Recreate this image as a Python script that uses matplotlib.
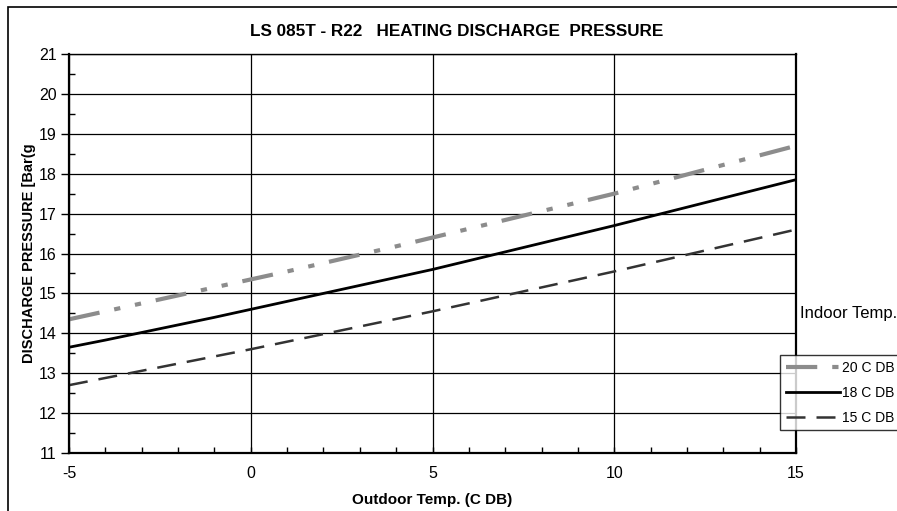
import matplotlib.pyplot as plt
from matplotlib.patches import Rectangle
from matplotlib.ticker import MultipleLocator

plt.rcParams['font.family'] = ['Liberation Sans', 'DejaVu Sans']
plt.rcParams['axes.unicode_minus'] = False

# outdoor temperature (C DB)
outdoor = [-5, -4, -3, -2, -1, 0, 1, 2, 3, 4, 5, 6, 7, 8, 9, 10, 11, 12, 13, 14, 15]

# discharge pressure [Bar(g)] for each indoor temperature
p_20 = [14.35, 14.55, 14.75, 14.95, 15.15, 15.35, 15.55, 15.76, 15.97, 16.18, 16.4,
        16.62, 16.84, 17.06, 17.28, 17.5, 17.74, 17.98, 18.22, 18.46, 18.7]
p_18 = [13.65, 13.83, 14.02, 14.21, 14.4, 14.6, 14.8, 15.0, 15.2, 15.4, 15.6,
        15.82, 16.04, 16.26, 16.48, 16.7, 16.93, 17.16, 17.39, 17.62, 17.85]
p_15 = [12.7, 12.88, 13.06, 13.24, 13.42, 13.6, 13.79, 13.98, 14.17, 14.36, 14.55,
        14.75, 14.95, 15.15, 15.35, 15.55, 15.76, 15.97, 16.18, 16.39, 16.6]

labels = ['20 C DB', '18 C DB', '15 C DB']

fig = plt.figure(figsize=(8.97, 5.11), dpi=100)
W, H = 897, 511
ax = fig.add_axes([69 / W, 1 - 453 / H, (796 - 69) / W, (453 - 54) / H])

# outer chart frame
fig.patches.append(Rectangle((8 / W, -0.01), 1.0, 1 - 7 / H + 0.01, transform=fig.transFigure,
                             fill=False, edgecolor='black', linewidth=1.2))

ax.plot(outdoor, p_20, color='#8c8c8c', lw=3, dashes=(7.5, 3.6, 1.5, 3.6, 1.5, 3.6), label=labels[0])
ax.plot(outdoor, p_18, color='black', lw=2, label=labels[1])
ax.plot(outdoor, p_15, color='#333333', lw=1.8, dashes=(7.6, 4.4), label=labels[2])

ax.set_xlim(-5, 15)
ax.set_ylim(11, 21)
ax.xaxis.set_major_locator(MultipleLocator(5))
ax.xaxis.set_minor_locator(MultipleLocator(1))
ax.yaxis.set_major_locator(MultipleLocator(1))
ax.yaxis.set_minor_locator(MultipleLocator(0.5))
ax.grid(True, which='major', color='black', lw=0.9)
ax.tick_params(axis='y', which='major', direction='out', length=6, width=1, labelsize=11.5, pad=3)
ax.tick_params(axis='x', which='major', direction='in', length=4, width=1, labelsize=11.5, pad=9)
ax.tick_params(which='minor', direction='in', length=4, width=1)
for side in ['left', 'bottom', 'right']:
    ax.spines[side].set_linewidth(1.6)
ax.spines['top'].set_linewidth(1)

ax.set_xlabel('Outdoor Temp. (C DB)', fontsize=11, fontweight='bold', labelpad=9)
ax.set_ylabel('DISCHARGE PRESSURE [Bar(g', fontsize=10.5, fontweight='bold', labelpad=2)
fig.text(457 / W, 1 - 32 / H, 'LS 085T - R22   HEATING DISCHARGE  PRESSURE',
         ha='center', va='center', fontsize=12.3, fontweight='bold')

fig.text(800 / W, 1 - 313 / H, 'Indoor Temp.', ha='left', va='center', fontsize=12)
leg = fig.legend(loc='upper left', bbox_to_anchor=(780 / W, 1 - 355 / H), frameon=True,
                 fancybox=False, edgecolor='black', fontsize=10, handlelength=3.9,
                 handletextpad=0.15, borderpad=0.4, labelspacing=0.8, borderaxespad=0)
leg.get_frame().set_linewidth(1)

fig.savefig('out.png', dpi=100)
